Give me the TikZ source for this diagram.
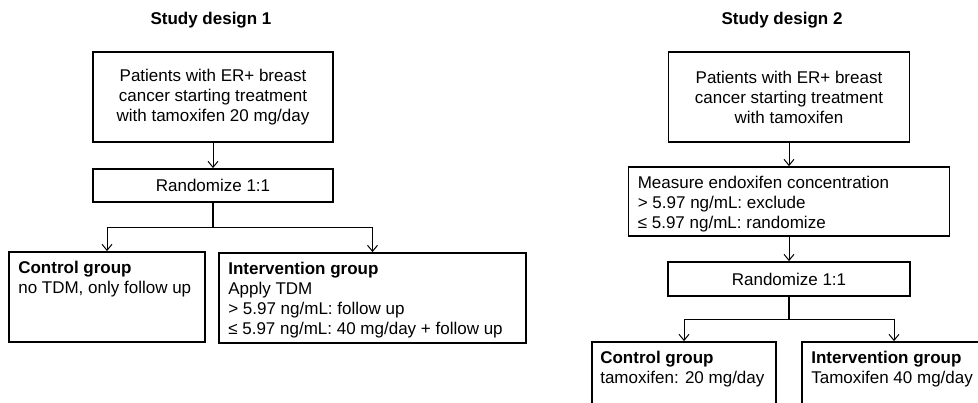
\documentclass[tikz,border=0pt]{standalone}
\usepackage{fontspec}
\setmainfont{Liberation Sans}
\usetikzlibrary{arrows.meta,calc}
\tikzset{
  box/.style={draw=black, line width=1.8pt, rectangle, inner sep=0pt},
  ctext/.style={align=center, inner sep=0pt, font=\fontsize{17}{20}\selectfont},
  ltext/.style={align=left, inner sep=0pt, anchor=north west, font=\fontsize{17}{20}\selectfont},
  ttl/.style={inner sep=0pt, font=\bfseries\fontsize{17}{20}\selectfont},
  arr/.style={draw=black, line width=1pt, -{Straight Barb[length=6pt,width=10pt,line width=1pt]}},
  stem/.style={draw=black, line width=1.6pt},
}
\begin{document}
\begin{tikzpicture}[x=1pt,y=-1pt]
\useasboundingbox (0,0) rectangle (978,403);
% ---------- Study design 1
\node[ttl] (t1) at (211,20) {Study design 1};
\node[box, minimum width=240pt, minimum height=90pt] (p1) at (213,97) {};
\node[ctext] (p1t) at (p1.center) {Patients with ER+ breast\\cancer starting treatment\\with tamoxifen 20 mg/day};
\node[box, minimum width=240pt, minimum height=33pt] (r1) at (213,185.5) {};
\node[ctext] (r1t) at (r1.center) {Randomize 1:1};
\node[box, minimum width=196pt, minimum height=90pt] (c1) at (107,297) {};
\node[ltext] (c1t) at ($(c1.north west)+(10,10)$) {\textbf{Control group}\\no TDM, only follow up};
\node[box, minimum width=307pt, minimum height=90pt] (i1) at (372.5,298) {};
\node[ltext] (i1t) at ($(i1.north west)+(10,10)$) {\textbf{Intervention group}\\Apply TDM\\> 5.97 ng/mL: follow up\\≤ 5.97 ng/mL: 40 mg/day + follow up};
\coordinate (j1) at (213,228);
\draw[arr] (p1.south) -- (r1.north);
\draw[stem] (r1.south) -- (j1);
\draw[arr] (j1) -| (c1.north);
\draw[arr] (j1) -| (i1.north);
% ---------- Study design 2
\node[ttl] (t2) at (782,20) {Study design 2};
\node[box, minimum width=241pt, minimum height=90pt] (p2) at (789,97) {};
\node[ctext] (p2t) at (p2.center) {Patients with ER+ breast\\cancer starting treatment\\with tamoxifen};
\node[box, minimum width=321pt, minimum height=69pt] (m2) at (789,201.5) {};
\node[ltext] (m2t) at ($(m2.north west)+(10,10)$) {Measure endoxifen concentration\\> 5.97 ng/mL: exclude\\≤ 5.97 ng/mL: randomize};
\node[box, minimum width=242pt, minimum height=34pt] (r2) at (789,279) {};
\node[ctext] (r2t) at (r2.center) {Randomize 1:1};
\node[box, minimum width=184pt, minimum height=90pt] (c2) at (684,387) {};
\node[ltext] (c2t) at ($(c2.north west)+(9,10)$) {\textbf{Control group}\\tamoxifen: 20 mg/day};
\node[box, minimum width=184pt, minimum height=90pt] (i2) at (894,387) {};
\node[ltext] (i2t) at ($(i2.north west)+(10,10)$) {\textbf{Intervention group}\\Tamoxifen 40 mg/day};
\coordinate (j2) at (789,320);
\draw[arr] (p2.south) -- (m2.north);
\draw[arr] (m2.south) -- (r2.north);
\draw[stem] (r2.south) -- (j2);
\draw[arr] (j2) -| (c2.north);
\draw[arr] (j2) -| (i2.north);
\end{tikzpicture}
\end{document}
